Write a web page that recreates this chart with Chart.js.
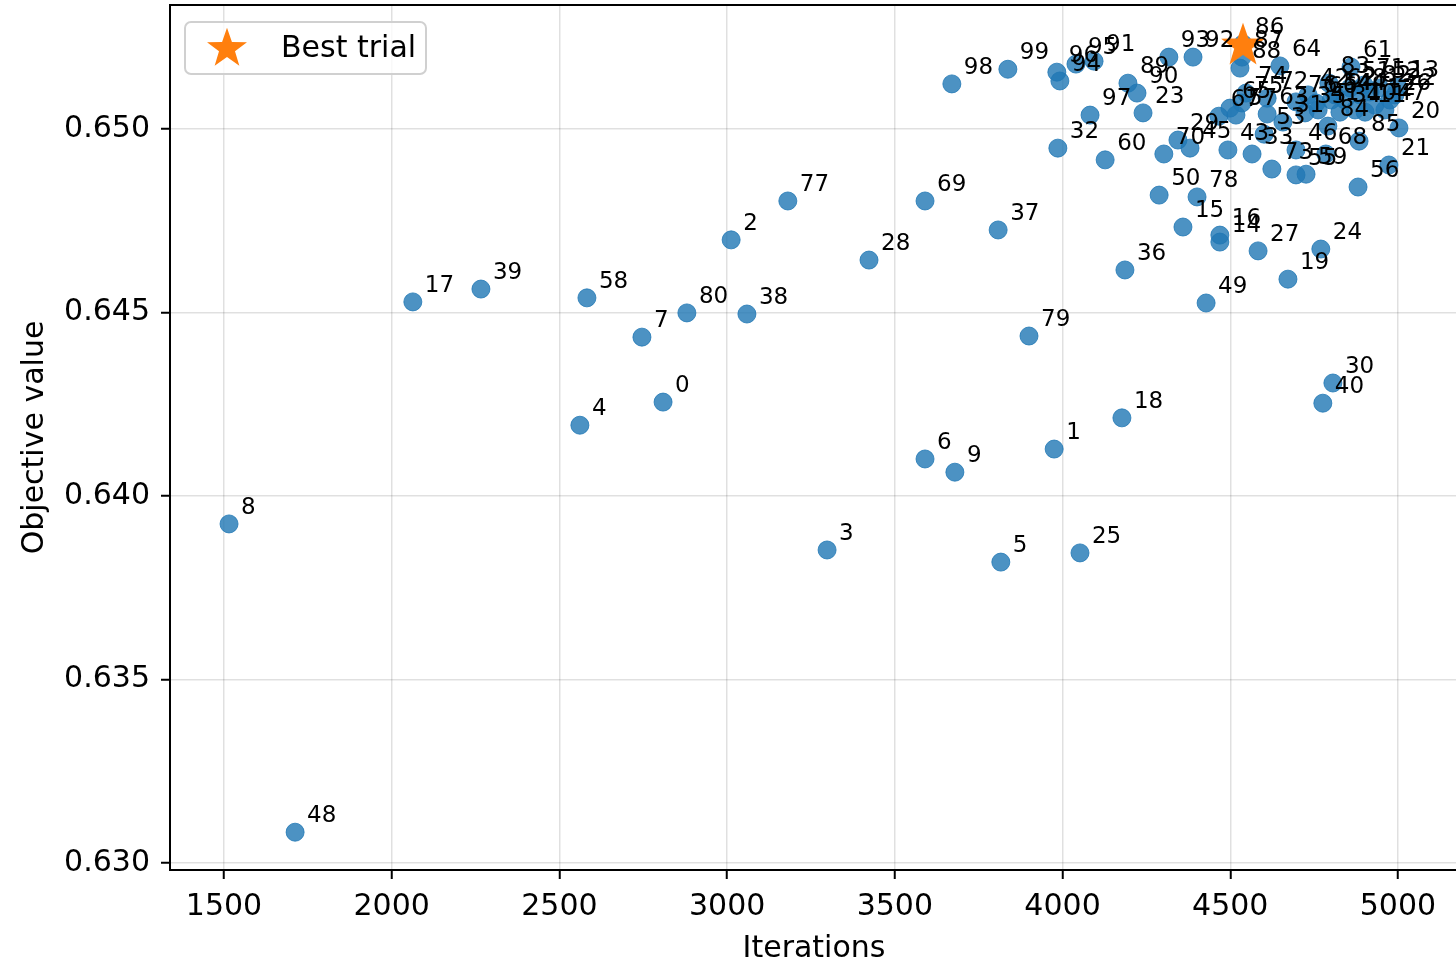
<!DOCTYPE html>
<html>
<head>
<meta charset="utf-8">
<script src="https://cdn.jsdelivr.net/npm/chart.js@4.4.1/dist/chart.umd.min.js"></script>
<style>
  html, body { margin: 0; padding: 0; background: #fff; overflow: hidden; }
  .wrap { width: 1460px; height: 960px; }
</style>
</head>
<body>
<div class="wrap"><canvas id="history" width="1460" height="960"></canvas></div>
<script>
// iterations and objective value per trial, indexed by trial number
const trialIterations = [
  2809, 3975, 3012, 3298, 2561, 3816, 3590, 2746, 1515, 3679,
  4872, 4902, 4931, 5000, 4469, 4359, 4469, 2063, 4177, 4672,
  5003, 4973, 4991, 4240, 4770, 4052, 4976, 4583, 3423, 4344,
  4806, 4657, 3986, 4565, 4827, 4723, 4186, 3808, 3059, 2266,
  4776, 4762, 4732, 4493, 4842, 4380, 4696, 4961, 1712, 4428,
  4288, 4857, 4946, 4601, 4801, 4696, 4881, 4517, 2582, 4726,
  4127, 4860, 4812, 4610, 4648, 4499, 4756, 4466, 4785, 3590,
  4302, 4899, 4610, 4624, 4547, 4535, 4696, 3181, 4401, 3900,
  2880, 4887, 4917, 4794, 4791, 4884, 4538, 4535, 4529, 4195,
  4222, 4094, 4389, 4317, 3992, 4040, 3983, 4082, 3670, 3837
];
const trialObjective = [
  0.64256, 0.64128, 0.64698, 0.63853, 0.64193, 0.63820, 0.64101, 0.64433, 0.63924, 0.64065,
  0.65052, 0.65046, 0.65065, 0.65114, 0.64692, 0.64733, 0.64711, 0.64529, 0.64213, 0.64591,
  0.65003, 0.64902, 0.65093, 0.65044, 0.64673, 0.63845, 0.65079, 0.64668, 0.64643, 0.64970,
  0.64308, 0.65019, 0.64948, 0.64932, 0.65046, 0.65044, 0.64616, 0.64725, 0.64496, 0.64564,
  0.64253, 0.65052, 0.65093, 0.64943, 0.65079, 0.64948, 0.64943, 0.65052, 0.63084, 0.64526,
  0.64820, 0.65112, 0.65112, 0.64986, 0.65079, 0.64875, 0.64842, 0.65038, 0.64540, 0.64877,
  0.64916, 0.65169, 0.65093, 0.65041, 0.65172, 0.65057, 0.65071, 0.65035, 0.64932, 0.64804,
  0.64932, 0.65120, 0.65084, 0.64891, 0.65098, 0.65071, 0.65074, 0.64804, 0.64815, 0.64436,
  0.64499, 0.65093, 0.65101, 0.65125, 0.65008, 0.64967, 0.65232, 0.65196, 0.65166, 0.65125,
  0.65098, 0.65185, 0.65196, 0.65196, 0.65131, 0.65177, 0.65155, 0.65038, 0.65123, 0.65163
];
const bestTrial = 86;

const xTickValues = [1500, 2000, 2500, 3000, 3500, 4000, 4500, 5000];
const yTickValues = [0.630, 0.635, 0.640, 0.645, 0.650];
const xRange = [1339, 5179];
const yRange = [0.62981, 0.65338];

const FONT = "'DejaVu Sans', sans-serif";
const BLUE = "rgba(31, 119, 180, 0.8)";
const ORANGE = "#ff7f0e";

// filled five-point star, used as a point style (the built-in 'star' is only strokes)
function makeStar(size, color) {
  const c = document.createElement("canvas");
  c.width = size;
  c.height = size;
  const g = c.getContext("2d");
  const cx = size / 2, cy = size / 2 + size * 0.04;
  const outer = size / 2, inner = outer * 0.4;
  g.beginPath();
  for (let i = 0; i < 10; i++) {
    const r = i % 2 === 0 ? outer : inner;
    const a = -Math.PI / 2 + (i * Math.PI) / 5;
    g.lineTo(cx + r * Math.cos(a), cy + r * Math.sin(a));
  }
  g.closePath();
  g.fillStyle = color;
  g.fill();
  return c;
}

const starPoint = makeStar(46, ORANGE);
const starLegend = makeStar(42, ORANGE);

const trialPoints = trialIterations.map((x, i) => ({ x: x, y: trialObjective[i] }));

// box around the whole plot area
const framePlugin = {
  id: "frame",
  afterDraw(chart) {
    const { ctx, chartArea: a } = chart;
    ctx.save();
    ctx.strokeStyle = "#000";
    ctx.lineWidth = 2;
    ctx.strokeRect(a.left, a.top, a.right - a.left, a.bottom - a.top);
    ctx.restore();
  }
};

// trial number next to each point
const trialLabelPlugin = {
  id: "trialLabels",
  afterDatasetsDraw(chart) {
    const { ctx } = chart;
    const meta = chart.getDatasetMeta(0);
    ctx.save();
    ctx.font = "23px " + FONT;
    ctx.fillStyle = "#000";
    ctx.textAlign = "left";
    ctx.textBaseline = "alphabetic";
    meta.data.forEach((pt, i) => {
      ctx.fillText(String(i), pt.x + 12, pt.y - 10);
    });
    ctx.restore();
  }
};

// legend box in the upper-left corner of the plot
const legendBoxPlugin = {
  id: "legendBox",
  afterDraw(chart) {
    const { ctx, chartArea: a } = chart;
    const x = a.left + 15, y = a.top + 17, w = 241, h = 52;
    ctx.save();
    ctx.beginPath();
    ctx.roundRect(x, y, w, h, 6);
    ctx.fillStyle = "rgba(255, 255, 255, 0.8)";
    ctx.fill();
    ctx.strokeStyle = "#d0d0d0";
    ctx.lineWidth = 2;
    ctx.stroke();
    ctx.drawImage(starLegend, x + 21, y + 4);
    ctx.font = "30px " + FONT;
    ctx.fillStyle = "#000";
    ctx.textBaseline = "middle";
    ctx.fillText("Best trial", x + 96, y + h / 2 + 1);
    ctx.restore();
  }
};

const ctx = document.getElementById("history").getContext("2d");

new Chart(ctx, {
  type: "scatter",
  data: {
    datasets: [
      {
        label: "Trials",
        data: trialPoints,
        backgroundColor: BLUE,
        borderColor: BLUE,
        borderWidth: 1,
        pointRadius: 9,
        pointHoverRadius: 9,
        order: 2
      },
      {
        label: "Best trial",
        data: [trialPoints[bestTrial]],
        pointStyle: starPoint,
        pointRadius: 23,
        order: 1
      }
    ]
  },
  options: {
    responsive: false,
    devicePixelRatio: 1,
    animation: false,
    layout: { autoPadding: false, padding: { top: 5, right: 2, bottom: 0, left: 0 } },
    plugins: {
      legend: { display: false },
      tooltip: { enabled: false }
    },
    scales: {
      x: {
        type: "linear",
        min: xRange[0],
        max: xRange[1],
        afterBuildTicks: (s) => { s.ticks = xTickValues.map((v) => ({ value: v })); },
        afterFit: (s) => { s.height = 90; s.paddingLeft = 0; s.paddingRight = 0; },
        ticks: {
          color: "#000",
          padding: 10,
          maxRotation: 0,
          font: { size: 30, family: FONT },
          callback: (v) => String(v)
        },
        grid: {
          color: "rgba(0, 0, 0, 0.12)",
          lineWidth: 1.5,
          tickColor: "#000",
          tickLength: 9,
          tickWidth: 2
        },
        border: { display: false },
        title: {
          display: true,
          text: "Iterations",
          color: "#000",
          font: { size: 30, family: FONT, lineHeight: 0.7 },
          padding: { top: 0, bottom: 0 }
        }
      },
      y: {
        type: "linear",
        min: yRange[0],
        max: yRange[1],
        afterBuildTicks: (s) => { s.ticks = yTickValues.map((v) => ({ value: v })); },
        afterFit: (s) => { s.width = 170; s.paddingTop = 0; s.paddingBottom = 0; },
        ticks: {
          color: "#000",
          padding: 11,
          font: { size: 30, family: FONT },
          callback: (v) => v.toFixed(3)
        },
        grid: {
          color: "rgba(0, 0, 0, 0.12)",
          lineWidth: 1.5,
          tickColor: "#000",
          tickLength: 9,
          tickWidth: 2
        },
        border: { display: false },
        title: {
          display: true,
          text: "Objective value",
          color: "#000",
          font: { size: 30, family: FONT },
          padding: { top: 17, bottom: 0 }
        }
      }
    }
  },
  plugins: [framePlugin, trialLabelPlugin, legendBoxPlugin]
});
</script>
</body>
</html>
